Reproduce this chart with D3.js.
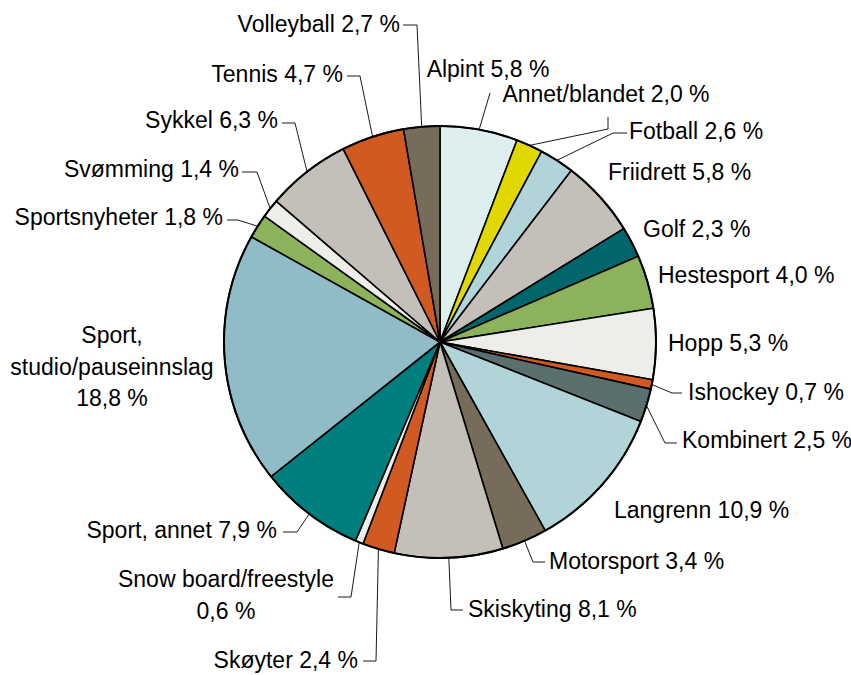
<!DOCTYPE html>
<html>
<head>
<meta charset="utf-8">
<script src="https://cdn.jsdelivr.net/npm/d3@7"></script>
<style>
  body { margin: 0; background: #fff; }
  text { font-family: "Liberation Sans", Arial, sans-serif; fill: #000; }
</style>
</head>
<body>
<div id="chart"></div>
<script>
// categories and shares (%), clockwise from 12 o'clock
var categories = ["Alpint", "Annet/blandet", "Fotball", "Friidrett", "Golf", "Hestesport", "Hopp",
  "Ishockey", "Kombinert", "Langrenn", "Motorsport", "Skiskyting", "Skøyter", "Snow board/freestyle",
  "Sport, annet", "Sport, studio/pauseinnslag", "Sportsnyheter", "Svømming", "Sykkel", "Tennis", "Volleyball"];
var values = [5.8, 2.0, 2.6, 5.8, 2.3, 4.0, 5.3, 0.7, 2.5, 10.9, 3.4, 8.1, 2.4, 0.6, 7.9, 18.8, 1.8, 1.4, 6.3, 4.7, 2.7];
var colors = ["#dfeeef", "#e0d800", "#b1d4d9", "#c4c0b9", "#00666b", "#8cb35c", "#edeeea",
  "#d05a22", "#5b706e", "#b1d4d9", "#776b5a", "#c4c0b9", "#d05a22", "#edeeea",
  "#007f7e", "#8fbcc6", "#8cb35c", "#edeeea", "#c4c0b9", "#d05a22", "#776b5a"];

// label layout: text lines, anchor point, and leader elbow / end (null = no leader)
var labelLayout = [
  { lines: ["Alpint 5,8 %"], x: 488, y: 77, anchor: "middle", leader: [[490, 93]] },
  { lines: ["Annet/blandet 2,0 %"], x: 606, y: 102, anchor: "middle", leader: [[608, 129], [608, 117]] },
  { lines: ["Fotball 2,6 %"], x: 629, y: 139, anchor: "start", leader: [[613, 133], [627, 133]] },
  { lines: ["Friidrett 5,8 %"], x: 608, y: 180, anchor: "start", leader: null },
  { lines: ["Golf 2,3 %"], x: 643, y: 237, anchor: "start", leader: null },
  { lines: ["Hestesport 4,0 %"], x: 658, y: 283, anchor: "start", leader: null },
  { lines: ["Hopp 5,3 %"], x: 668, y: 351, anchor: "start", leader: null },
  { lines: ["Ishockey 0,7 %"], x: 688, y: 400, anchor: "start", leader: [[672, 393], [682, 393]] },
  { lines: ["Kombinert 2,5 %"], x: 682, y: 448, anchor: "start", leader: [[665, 443], [677, 443]] },
  { lines: ["Langrenn 10,9 %"], x: 614, y: 518, anchor: "start", leader: null },
  { lines: ["Motorsport 3,4 %"], x: 549, y: 569, anchor: "start", leader: [[533, 562], [545, 562]] },
  { lines: ["Skiskyting 8,1 %"], x: 468, y: 617, anchor: "start", leader: [[451, 610], [463, 610]] },
  { lines: ["Skøyter 2,4 %"], x: 358, y: 668, anchor: "end", leader: [[376, 661], [363, 661]] },
  { lines: ["Snow board/freestyle", "0,6 %"], x: 226, y: 587, anchor: "middle", leader: [[351, 597], [338, 597]] },
  { lines: ["Sport, annet 7,9 %"], x: 277, y: 538, anchor: "end", leader: [[297, 532], [283, 532]] },
  { lines: ["Sport,", "studio/pauseinnslag", "18,8 %"], x: 112, y: 343, anchor: "middle", leader: null },
  { lines: ["Sportsnyheter 1,8 %"], x: 223, y: 225, anchor: "end", leader: [[238, 220], [227, 220]] },
  { lines: ["Svømming 1,4 %"], x: 239, y: 177, anchor: "end", leader: [[257, 172], [242, 172]] },
  { lines: ["Sykkel 6,3 %"], x: 278, y: 128, anchor: "end", leader: [[295, 123], [282, 123]] },
  { lines: ["Tennis 4,7 %"], x: 343, y: 82, anchor: "end", leader: [[360, 76], [347, 76]] },
  { lines: ["Volleyball 2,7 %"], x: 400, y: 32, anchor: "end", leader: [[417, 25], [403, 25]] }
];

var width = 851, height = 675;
var cx = 440, cy = 342, radius = 216;

var svg = d3.select("#chart")
  .append("svg")
  .attr("width", width)
  .attr("height", height);

var data = categories.map(function (c, i) { return { name: c, value: values[i], color: colors[i], label: labelLayout[i] }; });

var pie = d3.pie()
  .value(function (d) { return d.value; })
  .sort(null);

var arc = d3.arc().innerRadius(0).outerRadius(radius);

var arcs = pie(data);

var g = svg.append("g").attr("transform", "translate(" + cx + "," + cy + ")");

g.selectAll("path.slice")
  .data(arcs)
  .enter()
  .append("path")
  .attr("class", "slice")
  .attr("d", arc)
  .attr("fill", function (d) { return d.data.color; })
  .attr("stroke", "#000")
  .attr("stroke-width", 1.6)
  .attr("stroke-linejoin", "round");

// outer rim
g.append("circle")
  .attr("r", radius)
  .attr("fill", "none")
  .attr("stroke", "#000")
  .attr("stroke-width", 2);

// leader lines, starting at the mid-angle of each slice on the rim
var line = d3.line();
arcs.forEach(function (d) {
  var lab = d.data.label;
  if (!lab.leader) return;
  var a = (d.startAngle + d.endAngle) / 2;
  var p0 = [cx + radius * Math.sin(a), cy - radius * Math.cos(a)];
  svg.append("path")
    .attr("d", line([p0].concat(lab.leader)))
    .attr("fill", "none")
    .attr("stroke", "#000")
    .attr("stroke-width", 0.9);
});

// labels
arcs.forEach(function (d) {
  var lab = d.data.label;
  var t = svg.append("text")
    .attr("x", lab.x)
    .attr("y", lab.y)
    .attr("text-anchor", lab.anchor)
    .style("font-size", "23px");
  lab.lines.forEach(function (s, i) {
    t.append("tspan")
      .attr("x", lab.x)
      .attr("dy", i === 0 ? 0 : 31.5)
      .text(s);
  });
});
</script>
</body>
</html>
